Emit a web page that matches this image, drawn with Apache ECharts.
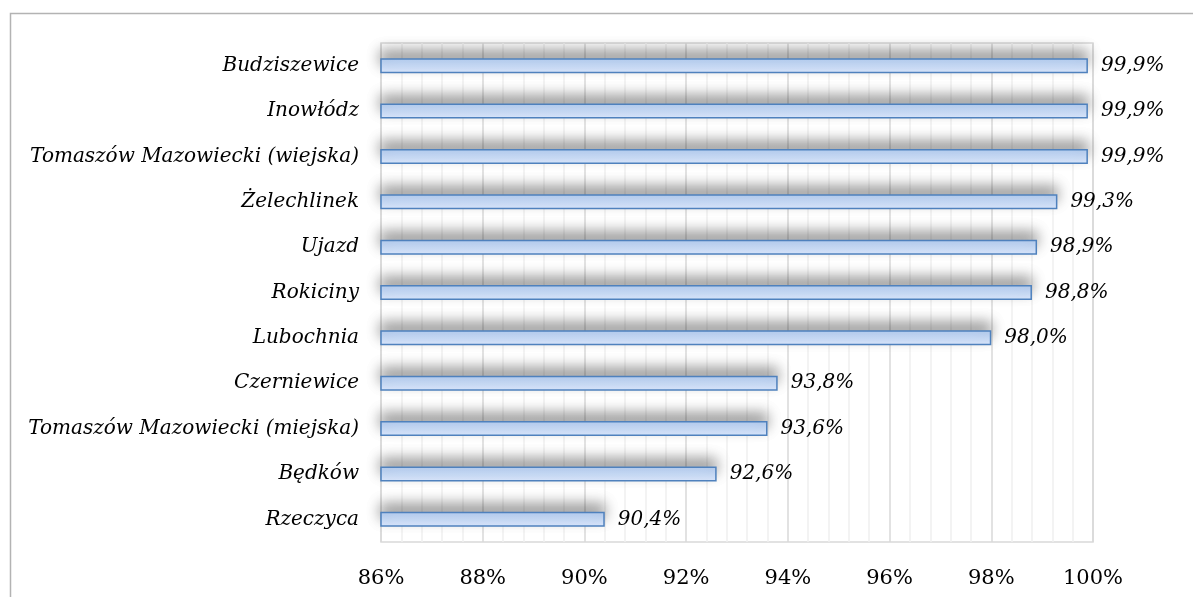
<!DOCTYPE html>
<html>
<head>
<meta charset="utf-8">
<script src="https://cdn.jsdelivr.net/npm/echarts@6/dist/echarts.min.js"></script>
<style>html,body{margin:0;padding:0;background:#fff;}#c{width:1193px;height:597px;}</style>
</head>
<body>
<div id="c"></div>
<script>
var categories = ["Budziszewice","Inowłódz","Tomaszów Mazowiecki (wiejska)","Żelechlinek","Ujazd","Rokiciny","Lubochnia","Czerniewice","Tomaszów Mazowiecki (miejska)","Będków","Rzeczyca"];
var values = [99.9,99.9,99.9,99.3,98.9,98.8,98.0,93.8,93.6,92.6,90.4];
var axisMin = 86, axisMax = 100, axisStep = 2;

var chart = echarts.init(document.getElementById('c'), null, {renderer:'canvas'});
chart.setOption({
  animation:false,
  backgroundColor:'#fff',
  graphic:[{type:'rect', shape:{x:10.5,y:13.5,width:1200,height:700}, style:{fill:'none', stroke:'#b3b3b3', lineWidth:1.5}, silent:true}],
  grid:{left:381, right:100, top:43, bottom:55, show:true, borderColor:'#d9d9d9', borderWidth:1.5},
  xAxis:{
    type:'value', min:axisMin, max:axisMax, interval:axisStep,
    axisLine:{show:false}, axisTick:{show:false},
    axisLabel:{formatter:'{value}%', color:'#000', fontFamily:'DejaVu Serif', fontSize:21, margin:26},
    splitLine:{show:true, lineStyle:{color:'#d9d9d9', width:1.5}},
    minorTick:{show:false, splitNumber:5},
    minorSplitLine:{show:true, lineStyle:{color:'#efefef', width:1.5}}
  },
  yAxis:{
    type:'category', data:categories, inverse:true,
    axisLine:{show:false}, axisTick:{show:false},
    axisLabel:{color:'#000', fontFamily:'DejaVu Serif', fontStyle:'italic', fontSize:20, margin:22}
  },
  series:[{
    type:'bar', data:values, barWidth:15,
    itemStyle:{
      color:new echarts.graphic.LinearGradient(0,0,0,1,[{offset:0,color:'#bad4f8'},{offset:1,color:'#dce9fe'}]),
      borderColor:'#4f81bd', borderWidth:1.5,
      shadowColor:'rgba(0,0,0,0.4)', shadowBlur:14, shadowOffsetY:-8, shadowOffsetX:0
    },
    label:{show:true, position:'right', distance:13, color:'#000', fontFamily:'DejaVu Serif', fontStyle:'italic', fontSize:20,
      formatter:function(p){return p.value.toFixed(1).replace('.',',')+'%';}}
  }]
});
</script>
</body>
</html>
